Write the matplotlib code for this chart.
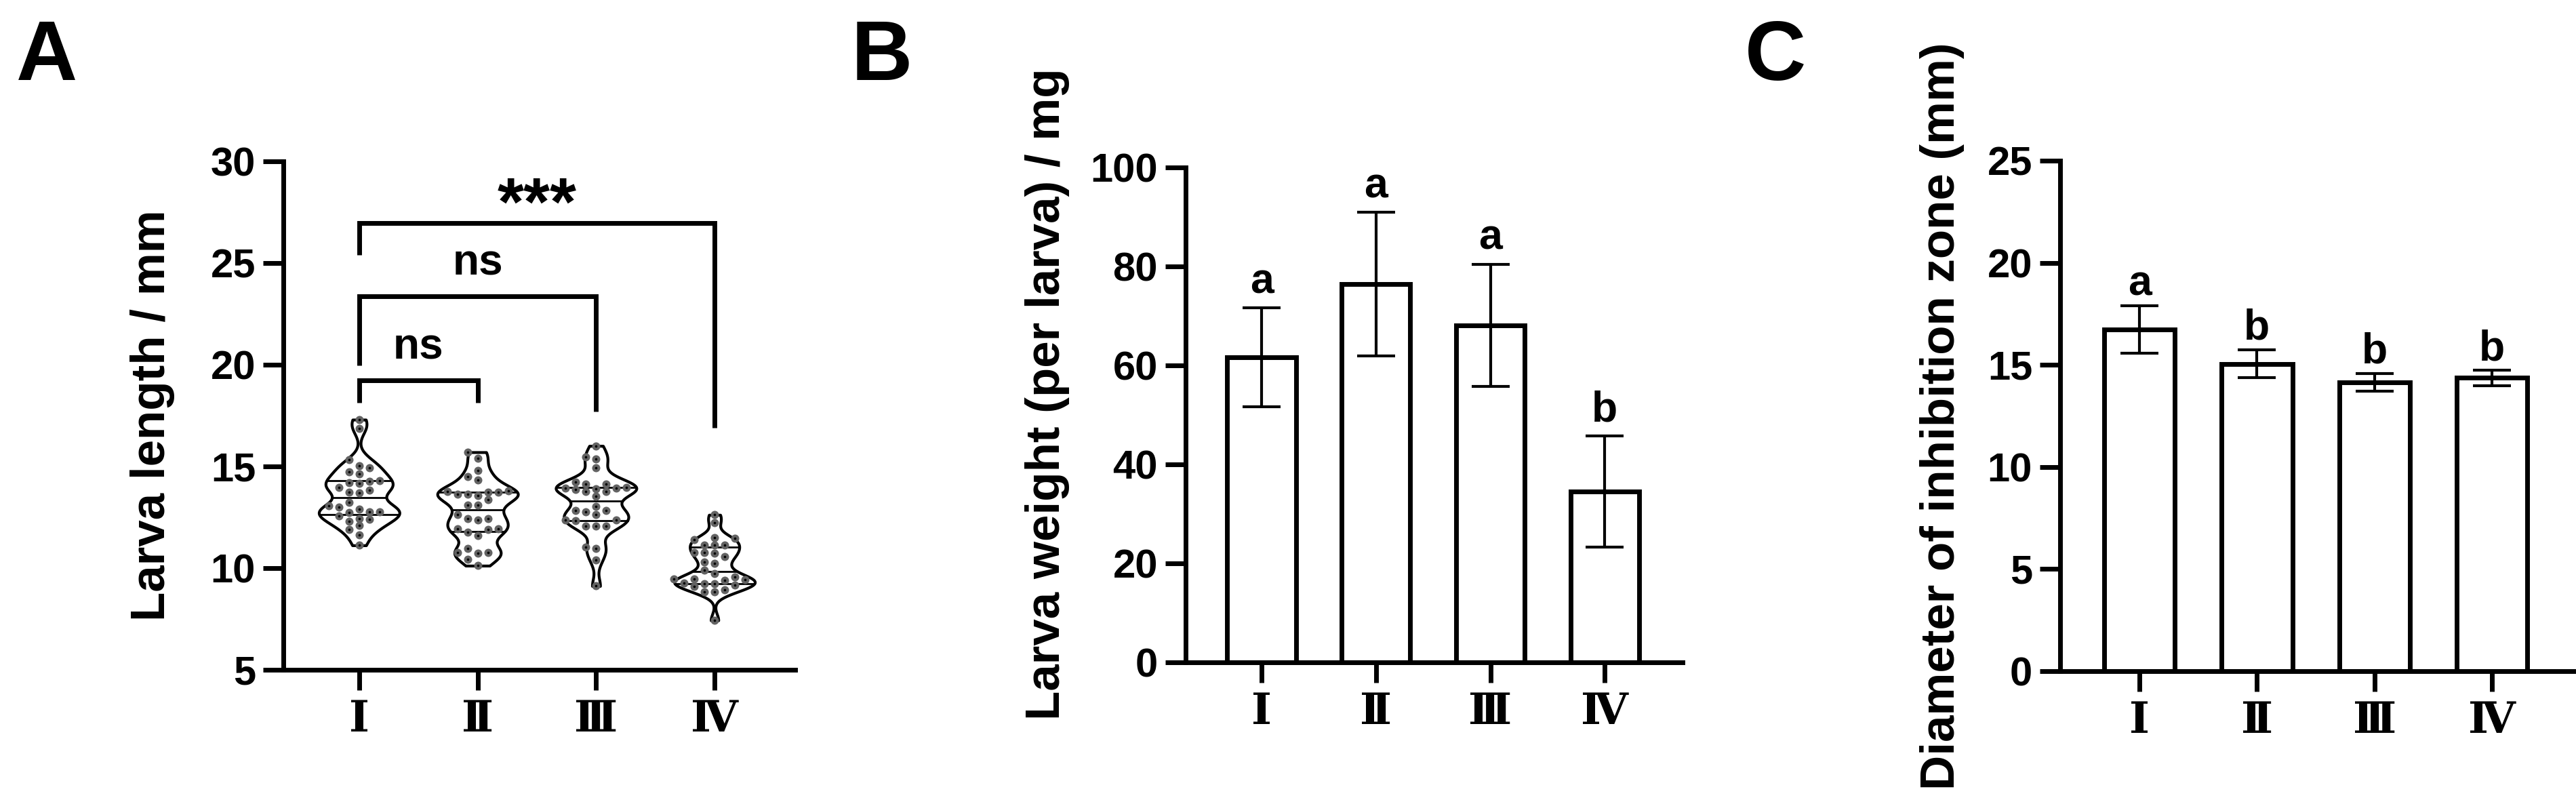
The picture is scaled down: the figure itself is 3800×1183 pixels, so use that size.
import numpy as np
import matplotlib
matplotlib.use('Agg')
import matplotlib.pyplot as plt
from matplotlib import cbook, mlab

plt.rcParams['font.family'] = ['Liberation Sans', 'DejaVu Sans']
plt.rcParams['font.weight'] = 'bold'

# Data
groups = ['Ⅰ', 'Ⅱ', 'Ⅲ', 'Ⅳ']

# A: larva length (mm), one value per larva
length_I = [17.30, 16.86, 15.35, 15.04, 14.95, 14.73, 14.64, 14.17, 14.20, 14.27,
            14.31, 13.98, 13.71, 13.75, 13.83, 13.24, 13.08, 13.00, 12.90, 12.78,
            12.75, 12.78, 12.58, 12.41, 12.31, 12.45, 12.09, 11.91, 11.65, 11.12]
length_II = [15.70, 15.41, 14.81, 14.51, 14.33, 13.75, 13.75, 13.58, 13.64, 13.64,
             13.78, 13.80, 13.38, 13.11, 13.11, 12.65, 12.45, 12.45, 12.38, 11.95,
             11.78, 11.91, 11.95, 11.61, 10.96, 10.78, 10.78, 10.74, 10.45, 10.12]
length_III = [16.01, 15.37, 15.46, 14.93, 13.94, 13.98, 14.15, 13.95, 13.78, 14.15,
              13.87, 14.24, 13.91, 13.78, 13.55, 12.85, 12.85, 13.04, 12.78, 12.65,
              12.34, 12.38, 12.38, 12.07, 12.07, 12.07, 10.96, 11.05, 10.39, 9.12]
length_IV = [12.62, 12.25, 11.46, 11.49, 11.41, 11.12, 11.15, 11.12, 10.78, 10.73,
             10.78, 10.57, 10.23, 10.29, 9.91, 9.74, 9.44, 9.57, 9.46, 9.41,
             9.46, 9.26, 9.24, 9.18, 9.24, 9.09, 8.95, 8.84, 8.84, 7.43]
comparisons = [(1, 2, 'ns'), (1, 3, 'ns'), (1, 4, '***')]

# B: larva weight (mg), mean and SD
weight_mean = [61.6, 76.4, 68.1, 34.5]
weight_sd = [10.0, 14.5, 12.3, 11.2]
weight_letters = ['a', 'a', 'a', 'b']

# C: inhibition zone diameter (mm), mean and SD
zone_mean = [16.73, 15.05, 14.14, 14.36]
zone_sd = [1.16, 0.68, 0.43, 0.37]
zone_letters = ['a', 'b', 'b', 'b']

W, H = 3800, 1183
fig = plt.figure(figsize=(W / 100, H / 100), dpi=100)

LW = 5
TICK_FS = 43
LABEL_FS = 51
ROMAN_FS = 46
ANNOT_FS = 45
roman_font = ['Liberation Serif', 'DejaVu Serif', 'DejaVu Sans']


def px_axes(left, right, top, bottom):
    return fig.add_axes([left / W, 1 - bottom / H, (right - left) / W, (bottom - top) / H])


def style(ax, xlim, ylim, yticks, ylabel, labelx, labely=0.5):
    ax.set_xlim(*xlim)
    ax.set_ylim(*ylim)
    ax.set_yticks(yticks)
    ax.set_xticks(range(1, 5))
    ax.set_xticklabels(groups, family=roman_font, fontsize=ROMAN_FS, weight='bold')
    for s in ['top', 'right']:
        ax.spines[s].set_visible(False)
    for s in ['left', 'bottom']:
        ax.spines[s].set_linewidth(LW)
    ax.tick_params(axis='both', length=21.5, width=LW, color='k')
    ax.tick_params(axis='y', labelsize=TICK_FS, pad=8)
    ax.tick_params(axis='x', pad=12)
    for t in ax.get_yticklabels():
        t.set_fontweight('bold')
    ax.set_ylabel(ylabel, fontsize=LABEL_FS, weight='bold')
    ax.yaxis.set_label_coords(labelx, labely)


def swarm(vals, step=0.086, xpx=175, ypx=30, mind=10.5):
    order = np.argsort(vals)
    cands = [0.0]
    for j in range(1, 12):
        cands += [-j * step, j * step]
    placed = []
    offs = np.zeros(len(vals))
    for i in order:
        y = vals[i]
        for c in cands:
            if all(np.hypot((c - px) * xpx, (y - py) * ypx) >= mind for px, py in placed):
                break
        placed.append((c, y))
        offs[i] = c
    return offs


# ---------------- Panel A ----------------
axA = px_axes(418, 1173, 238, 988)
data = [np.array(length_I), np.array(length_II), np.array(length_III), np.array(length_IV)]
vw = 0.68
kde = lambda X, coords: mlab.GaussianKDE(X, 0.27).evaluate(coords)
stats = cbook.violin_stats(data, kde, points=300)
parts = axA.violin(stats, positions=[1, 2, 3, 4], widths=vw, showmeans=False,
                   showextrema=False, showmedians=False)
for b in parts['bodies']:
    b.set_facecolor('white')
    b.set_edgecolor('black')
    b.set_linewidth(3)
    b.set_alpha(1)
    b.set_zorder(2)
for k, st in enumerate(stats):
    vals = np.asarray(st['vals'])
    coords = np.asarray(st['coords'])
    for q in [25, 50, 75]:
        yq = np.percentile(data[k], q)
        hw = 0.5 * vw * np.interp(yq, coords, vals) / vals.max()
        axA.plot([k + 1 - hw, k + 1 + hw], [yq, yq], color='k', lw=2, zorder=3)
    xs = k + 1 + swarm(data[k])
    axA.scatter(xs, data[k], s=75, color='#636363', linewidths=0, zorder=4)
    axA.scatter(xs, data[k], s=7, color='black', linewidths=0, zorder=5)

style(axA, (0.36, 4.68), (5, 30), range(5, 31, 5), 'Larva length / mm', -0.212)

bracket_y = [19.25, 23.37, 26.97]
bracket_low = [(18.13, 18.13), (19.98, 17.7), (25.4, 16.9)]
for (g1, g2, lab), yb, (l1, l2) in zip(comparisons, bracket_y, bracket_low):
    axA.plot([g1, g1, g2, g2], [l1, yb, yb, l2], color='k', lw=LW,
             solid_joinstyle='miter', solid_capstyle='butt', zorder=3)
    if lab == '***':
        axA.text((g1 + g2) / 2, yb - 0.1, lab, ha='center', va='baseline',
                 fontsize=72, weight='bold')
    else:
        axA.text((g1 + g2) / 2, yb + 1.05, lab, ha='center', va='baseline',
                 fontsize=46, weight='bold')

# ---------------- Panel B ----------------
axB = px_axes(1749, 2482, 247, 977)
xB = np.arange(1, 5)
axB.bar(xB, weight_mean, width=0.6, color='white', edgecolor='black', linewidth=LW, zorder=2)
axB.errorbar(xB, weight_mean, yerr=weight_sd, fmt='none', ecolor='black', elinewidth=3,
             capsize=20, capthick=3, zorder=3)
for x, m, s, lab in zip(xB, weight_mean, weight_sd, weight_letters):
    axB.annotate(lab, (x, m + s), xytext=(0, 16), textcoords='offset points',
                 ha='center', va='baseline', fontsize=ANNOT_FS, weight='bold')
style(axB, (0.336, 4.68), (0, 100), range(0, 101, 20), 'Larva weight (per larva) / mg',
      -0.233, 0.542)

# ---------------- Panel C ----------------
axC = px_axes(3039, 3796, 237, 990)
axC.bar(xB, zone_mean, width=0.6, color='white', edgecolor='black', linewidth=LW, zorder=2)
axC.errorbar(xB, zone_mean, yerr=zone_sd, fmt='none', ecolor='black', elinewidth=3,
             capsize=20, capthick=3, zorder=3)
for x, m, s, lab in zip(xB, zone_mean, zone_sd, zone_letters):
    axC.annotate(lab, (x, m + s), xytext=(0, 11), textcoords='offset points',
                 ha='center', va='baseline', fontsize=ANNOT_FS, weight='bold')
style(axC, (0.325, 4.69), (0, 25), range(0, 26, 5), 'Diameter of inhibition zone (mm)', -0.186)

# Panel letters
for lab, x in zip(['A', 'B', 'C'], [24, 1256, 2574]):
    fig.text(x / W, 1 - 118 / H, lab, fontsize=90, weight='bold', ha='left', va='baseline')

fig.savefig('out.png', dpi=100, facecolor='white')
